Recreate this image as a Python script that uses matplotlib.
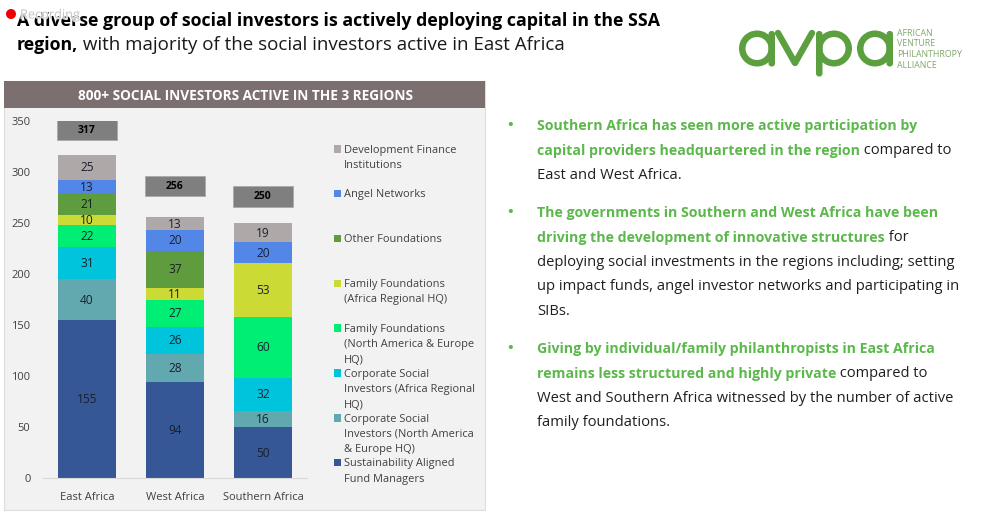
"""Stacked bars of social investors by region, with the slide text around them."""

import matplotlib

matplotlib.use("Agg")
import matplotlib.pyplot as plt
import matplotlib.patheffects as pe
import numpy as np
from matplotlib.patches import Circle, FancyBboxPatch, Rectangle, Wedge

W, H = 987, 514
FONT = "Open Sans"
GREEN = "#5BB84B"
DARK = "#1F1F1F"

regions = ["East Africa", "West Africa", "Southern Africa"]
totals = [317, 256, 250]
sustainability = [155, 94, 50]
csi_europe = [40, 28, 16]
csi_africa = [31, 26, 32]
family_europe = [22, 27, 60]
family_africa = [10, 11, 53]
other_foundations = [21, 37, 0]
angel_networks = [13, 20, 20]
dfi = [25, 13, 19]

series = [
    (sustainability, "#355795", "Sustainability Aligned\nFund Managers"),
    (csi_europe, "#62A8AF", "Corporate Social\nInvestors (North America\n& Europe HQ)"),
    (csi_africa, "#00C4DC", "Corporate Social\nInvestors (Africa Regional\nHQ)"),
    (family_europe, "#00EE73", "Family Foundations\n(North America & Europe\nHQ)"),
    (family_africa, "#CBDA35", "Family Foundations\n(Africa Regional HQ)"),
    (other_foundations, "#5E9C3E", "Other Foundations"),
    (angel_networks, "#5287E8", "Angel Networks"),
    (dfi, "#AFA8A8", "Development Finance\nInstitutions"),
]

plt.rcParams["font.family"] = [FONT, "DejaVu Sans"]
fig = plt.figure(figsize=(W / 100, H / 100), dpi=100, facecolor="white")

# page overlay in pixel coordinates, y down
page = fig.add_axes([0, 0, 1, 1], zorder=0)
page.set_xlim(0, W)
page.set_ylim(H, 0)
page.axis("off")

page.add_patch(Rectangle((4, 81), 481, 429, fc="#F2F2F2", ec="#DDDDDD", lw=0.8))
page.add_patch(Rectangle((4, 81), 481, 27, fc="#7B6F70", ec="none"))
page.text(245, 95.5, "800+ SOCIAL INVESTORS ACTIVE IN THE 3 REGIONS", color="white",
          fontsize=9.8, fontweight="bold", ha="center", va="center")

# title
page.text(17, 20.5, "A diverse group of social investors is actively deploying capital in the SSA",
          fontsize=12.75, fontweight="bold", color="black", va="center")
title2 = page.text(17, 45, "region,", fontsize=12.75, fontweight="bold", color="black", va="center")
page.annotate(" with majority of the social investors active in East Africa", xy=(1, 0.5),
              xycoords=title2, va="center", fontsize=13.5, color="#1A1A1A")

# recording badge sits over the title
page.add_patch(Circle((11, 14), 5, fc="#F00000", ec="none", zorder=5))
page.text(20, 15, "Recording", fontsize=9.2, color="#BDBDBD", alpha=0.85, va="center", zorder=5,
          path_effects=[pe.withStroke(linewidth=1.2, foreground="#FFFFFF80")])

# logo
logo = "#5C9F3F"


def ring(cx, cy=48.5, r=18, w=6.5):
    page.add_patch(Wedge((cx, cy), r, 0, 360, width=w, fc=logo, ec="none"))


def stem(x, y0, y1, w=6.5):
    page.add_patch(FancyBboxPatch((x, y0), w, y1 - y0, boxstyle="round,pad=0,rounding_size=3",
                                  fc=logo, ec="none"))


ring(757)
stem(768.5, 31, 66.5)
page.plot([778, 795, 812], [33, 63, 33], color=logo, lw=4.6, solid_capstyle="round", solid_joinstyle="round")
ring(834)
stem(816, 31, 76.5)
ring(875)
stem(886.5, 31, 66.5)
for i, word in enumerate(["AFRICAN", "VENTURE", "PHILANTHROPY", "ALLIANCE"]):
    page.text(897, 33 + i * 10.7, word, fontsize=6.3, color="#7FA868", va="center")

# right hand bullets: green lines, black tail on the last green line, then black lines
bullets = [
    (126, ["Southern Africa has seen more active participation by",
           "capital providers headquartered in the region"], " compared to",
     ["East and West Africa."]),
    (213, ["The governments in Southern and West Africa have been",
           "driving the development of innovative structures"], " for",
     ["deploying social investments in the regions including; setting",
      "up impact funds, angel investor networks and participating in",
      "SIBs."]),
    (349, ["Giving by individual/family philanthropists in East Africa",
           "remains less structured and highly private"], " compared to",
     ["West and Southern Africa witnessed by the number of active",
      "family foundations."]),
]
for y0, green_lines, tail, black_lines in bullets:
    page.text(507, y0 - 1, "•", color=GREEN, fontsize=10.5, va="center", fontweight="bold")
    y = y0
    last = None
    for line in green_lines:
        last = page.text(537, y, line, color=GREEN, fontsize=10.2, fontweight="bold", va="center")
        y += 24.6
    page.annotate(tail, xy=(1, 0.5), xycoords=last, va="center", fontsize=10.5, color=DARK)
    for line in black_lines:
        page.text(537, y, line, color=DARK, fontsize=10.6, va="center")
        y += 24.6

# chart: y=0 at 478 px, y=350 at 121 px, x spans 43..307 px
ax = fig.add_axes([43 / W, 1 - 478 / H, 264 / W, 357 / H], zorder=1)
ax.patch.set_alpha(0)
x = np.arange(len(regions))
bottom = np.zeros(len(regions))
for values, color, _ in series:
    values = np.array(values)
    ax.bar(x, values, 0.65, bottom=bottom, color=color, linewidth=0)
    for xi, b, v in zip(x, bottom, values):
        if v:
            ax.text(xi, b + v / 2 - 0.5, str(v), ha="center", va="center", fontsize=8.6, color="#1A1F2E")
    bottom += values

# total boxes float above each stack
for xi, total, gap in zip(x, totals, [24, 30, 26]):
    ax.add_patch(Rectangle((xi - 0.34, total + gap - 10), 0.68, 20, fc="#7F7F7F", ec="#A6A6A6", lw=0.5))
    ax.text(xi, total + gap, str(total), ha="center", va="center", fontsize=7.5,
            fontweight="bold", color="black")

ax.set_xlim(-0.5, 2.5)
ax.set_ylim(0, 350)
ax.set_xticks(x, regions)
ax.set_yticks(np.arange(0, 351, 50))
ax.tick_params(length=0, labelsize=8, labelcolor="#404040")
ax.tick_params(axis="x", pad=10)
ax.tick_params(axis="y", pad=9)
for side in ["top", "right", "left"]:
    ax.spines[side].set_visible(False)
ax.spines["bottom"].set_color("#D9D9D9")

# legend, top entry first, evenly spaced
for i, (_, color, label) in enumerate(reversed(series)):
    y = 148 + i * 44.85
    page.add_patch(Rectangle((333.5, y - 3), 7.5, 7.5, fc=color, ec="none"))
    page.text(344, y - 3.5, label, fontsize=7.9, color="#404040", va="top", linespacing=1.55)

fig.savefig("out.png", dpi=100)
